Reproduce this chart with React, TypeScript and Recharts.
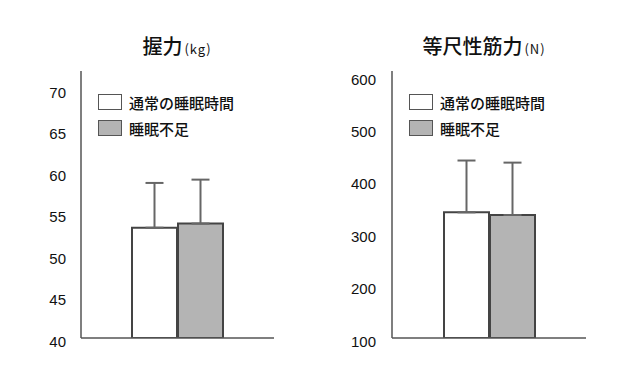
import React from 'react';
import { BarChart, Bar, XAxis, YAxis, ErrorBar, Legend } from 'recharts';

const seriesNames = ['通常の睡眠時間', '睡眠不足'];
const seriesFills = ['#ffffff', '#b4b4b4'];

const gripMeans = [53.3, 53.8];
const gripSD = [5.4, 5.3];
const gripTicks = [40, 45, 50, 55, 60, 65, 70];

const isoMeans = [340, 335];
const isoSD = [99, 100];
const isoTicks = [100, 200, 300, 400, 500, 600];

const buildRow = (means: number[], sds: number[]) => [
  {
    cat: '',
    s0: means[0],
    s1: means[1],
    e0: [0, sds[0]],
    e1: [0, sds[1]],
  },
];

const gripData = buildRow(gripMeans, gripSD);
const isoData = buildRow(isoMeans, isoSD);

const numFont = '"Liberation Sans", Arial, sans-serif';
const cjkFont = '"Noto Sans CJK JP", "Noto Sans", sans-serif';

const Tick = (props: any) => {
  const { x, y, payload } = props;
  return (
    <text
      x={x}
      y={y + 3}
      textAnchor="end"
      dominantBaseline="central"
      fontFamily={numFont}
      fontSize={15}
      fill="#111"
    >
      {payload.value}
    </text>
  );
};

const LegendContent = () => (
  <div style={{ fontFamily: cjkFont, fontSize: 15, fontWeight: 500, color: '#111' }}>
    {seriesNames.map((n, i) => (
      <div key={n} style={{ display: 'flex', alignItems: 'center', height: 26 }}>
        <div
          style={{
            width: 22,
            height: 14,
            border: '1.5px solid #555',
            background: seriesFills[i],
          }}
        />
        <span style={{ marginLeft: 7, lineHeight: '17px' }}>{n}</span>
      </div>
    ))}
  </div>
);

type PanelProps = {
  data: any[];
  ticks: number[];
  domain: [number, number];
  width: number;
  yWidth: number;
  rightMargin: number;
  tickMargin: number;
};

const Panel = ({ data, ticks, domain, width, yWidth, rightMargin, tickMargin }: PanelProps) => (
  <BarChart
    width={width}
    height={383}
    data={data}
    margin={{ top: 71, right: rightMargin, bottom: 44, left: 0 }}
    barSize={45}
    barGap={1}
  >
    <XAxis
      dataKey="cat"
      tick={false}
      tickLine={false}
      height={1}
      axisLine={{ stroke: '#555', strokeWidth: 1.5 }}
    />
    <YAxis
      width={yWidth}
      domain={domain}
      ticks={ticks}
      type="number"
      allowDataOverflow
      tickLine={false}
      tickSize={0}
      tickMargin={tickMargin}
      tick={<Tick />}
      axisLine={{ stroke: '#555', strokeWidth: 1.5 }}
    />
    <Legend
      layout="vertical"
      align="center"
      verticalAlign="middle"
      content={<LegendContent />}
      wrapperStyle={{ left: yWidth + 17, top: 89, width: 180 }}
    />
    <Bar dataKey="s0" name={seriesNames[0]} fill={seriesFills[0]} stroke="#444" strokeWidth={2} isAnimationActive={false}>
      <ErrorBar dataKey="e0" width={9} stroke="#666" strokeWidth={2} direction="y" isAnimationActive={false} />
    </Bar>
    <Bar dataKey="s1" name={seriesNames[1]} fill={seriesFills[1]} stroke="#444" strokeWidth={2} isAnimationActive={false}>
      <ErrorBar dataKey="e1" width={9} stroke="#666" strokeWidth={2} direction="y" isAnimationActive={false} />
    </Bar>
  </BarChart>
);

const titleStyle: React.CSSProperties = {
  position: 'absolute',
  top: 32,
  width: 200,
  textAlign: 'center',
  fontFamily: cjkFont,
  fontSize: 20,
  fontWeight: 500,
  color: '#111',
  lineHeight: '28px',
};

const unitStyle: React.CSSProperties = { fontSize: 13, fontWeight: 400, letterSpacing: 1, marginLeft: 2 };

export default function App() {
  return (
    <div style={{ position: 'absolute', left: 0, top: 0, width: 630, height: 383, background: '#fff' }}>
      <div style={{ position: 'absolute', left: 0, top: 0 }}>
        <Panel data={gripData} ticks={gripTicks} domain={[40, 72.2]} width={300} yWidth={81} rightMargin={26} tickMargin={15} />
      </div>
      <div style={{ position: 'absolute', left: 310, top: 0 }}>
        <Panel data={isoData} ticks={isoTicks} domain={[100, 610]} width={320} yWidth={82} rightMargin={44} tickMargin={16} />
      </div>
      <div style={{ ...titleStyle, left: 77 }}>
        握力<span style={unitStyle}>(kg)</span>
      </div>
      <div style={{ ...titleStyle, left: 384 }}>
        等尺性筋力<span style={unitStyle}>(N)</span>
      </div>
    </div>
  );
}
